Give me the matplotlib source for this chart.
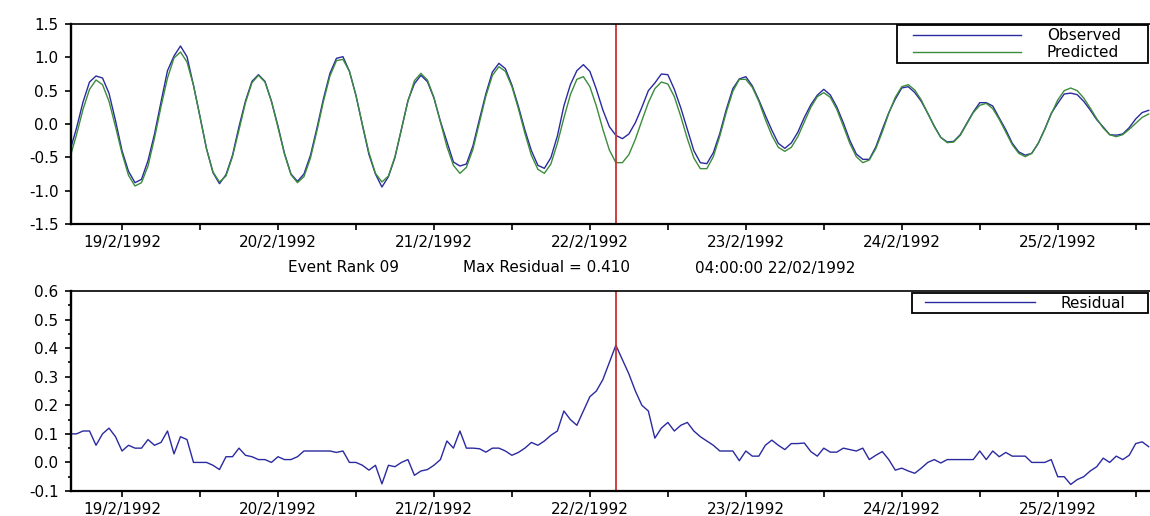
import matplotlib
matplotlib.use("Agg")
import matplotlib.pyplot as plt
import matplotlib.dates as mdates
from matplotlib.ticker import FixedLocator, MultipleLocator, FuncFormatter
from matplotlib.legend_handler import HandlerLine2D
import numpy as np
import pandas as pd

plt.rcParams["font.family"] = ["DejaVu Sans"]

# hourly series, first sample 18/02/1992 16:00
start_time = "1992-02-18 16:00"

predicted = [
    -0.50, -0.16, 0.22, 0.52, 0.66, 0.59, 0.34, -0.04, -0.44, -0.77, -0.93, -0.88,
    -0.63, -0.21, 0.26, 0.69, 0.99, 1.08, 0.93, 0.58, 0.11, -0.37, -0.72, -0.87,
    -0.78, -0.49, -0.09, 0.32, 0.62, 0.73, 0.63, 0.34, -0.05, -0.45, -0.76, -0.88,
    -0.79, -0.51, -0.10, 0.34, 0.72, 0.95, 0.97, 0.79, 0.43, -0.01, -0.43, -0.74,
    -0.87, -0.78, -0.49, -0.08, 0.34, 0.65, 0.76, 0.66, 0.40, 0.03, -0.34, -0.62,
    -0.74, -0.65, -0.38, 0.02, 0.42, 0.73, 0.86, 0.79, 0.56, 0.23, -0.14, -0.47,
    -0.68, -0.74, -0.60, -0.29, 0.09, 0.44, 0.67, 0.71, 0.56, 0.27, -0.08, -0.39,
    -0.58, -0.58, -0.46, -0.23, 0.05, 0.32, 0.53, 0.63, 0.60, 0.41, 0.11, -0.22,
    -0.51, -0.67, -0.67, -0.49, -0.18, 0.18, 0.49, 0.67, 0.67, 0.55, 0.34, 0.07,
    -0.17, -0.35, -0.41, -0.35, -0.19, 0.03, 0.25, 0.41, 0.47, 0.40, 0.22, -0.03,
    -0.29, -0.49, -0.58, -0.54, -0.37, -0.12, 0.16, 0.40, 0.56, 0.59, 0.51, 0.36,
    0.16, -0.04, -0.20, -0.28, -0.27, -0.17, 0.00, 0.17, 0.28, 0.31, 0.23, 0.07,
    -0.12, -0.31, -0.44, -0.49, -0.44, -0.29, -0.08, 0.15, 0.36, 0.50, 0.54, 0.50,
    0.39, 0.24, 0.08, -0.06, -0.16, -0.19, -0.16, -0.08, 0.01, 0.10, 0.15,
]

residual = [
    0.10, 0.10, 0.11, 0.11, 0.06, 0.10, 0.12, 0.09, 0.04, 0.06, 0.05, 0.05,
    0.08, 0.06, 0.07, 0.11, 0.03, 0.09, 0.08, 0.00, 0.00, 0.00, -0.01, -0.025,
    0.02, 0.02, 0.05, 0.025, 0.02, 0.01, 0.01, 0.00, 0.02, 0.01, 0.01, 0.02,
    0.04, 0.04, 0.04, 0.04, 0.04, 0.035, 0.04, 0.00, 0.00, -0.01, -0.027, -0.01,
    -0.075, -0.01, -0.015, 0.00, 0.01, -0.045, -0.03, -0.025, -0.01, 0.01, 0.075, 0.05,
    0.11, 0.05, 0.05, 0.048, 0.036, 0.05, 0.05, 0.04, 0.025, 0.035, 0.05, 0.07,
    0.06, 0.075, 0.095, 0.11, 0.18, 0.15, 0.13, 0.18, 0.23, 0.25, 0.29, 0.35,
    0.41, 0.36, 0.31, 0.25, 0.20, 0.18, 0.085, 0.12, 0.14, 0.11, 0.13, 0.14,
    0.11, 0.09, 0.075, 0.06, 0.04, 0.04, 0.04, 0.006, 0.04, 0.022, 0.022, 0.06,
    0.078, 0.06, 0.045, 0.066, 0.066, 0.068, 0.038, 0.022, 0.05, 0.036, 0.036, 0.05,
    0.045, 0.04, 0.05, 0.01, 0.025, 0.038, 0.01, -0.027, -0.02, -0.03, -0.038, -0.02,
    0.00, 0.01, -0.002, 0.01, 0.01, 0.01, 0.01, 0.01, 0.04, 0.01, 0.04, 0.02,
    0.035, 0.022, 0.022, 0.022, 0.00, 0.00, 0.00, 0.01, -0.05, -0.05, -0.077, -0.06,
    -0.05, -0.03, -0.015, 0.015, 0.00, 0.022, 0.01, 0.025, 0.066, 0.072, 0.055,
]

# observed = predicted + residual
observed = [p + r for p, r in zip(predicted, residual)]

event_time = pd.Timestamp("1992-02-22 04:00")
event_rank = "09"
max_residual = 0.410

times = pd.date_range(start_time, periods=len(predicted), freq="h")
x_start = pd.Timestamp("1992-02-18 16:09")
x_end = pd.Timestamp("1992-02-25 14:12")

BLUE = "#2a2aa0"
GREEN = "#3c8c3c"
RED = "#c83232"
FS = 11


def day_label(v, pos):
    d = mdates.num2date(v)
    return f"{d.day}/{d.month}/{d.year}"


def style_axes(ax):
    ax.set_xlim(x_start, x_end)
    ax.xaxis.set_major_locator(mdates.DayLocator())
    ax.xaxis.set_minor_locator(mdates.HourLocator(byhour=[12]))
    ax.xaxis.set_major_formatter(FuncFormatter(day_label))
    ax.yaxis.set_major_formatter(FuncFormatter(lambda v, p: f"{v:.1f}"))
    ax.spines["right"].set_visible(False)
    ax.spines["left"].set_linewidth(1.7)
    ax.spines["bottom"].set_linewidth(1.6)
    ax.spines["top"].set_linewidth(1.2)
    ax.tick_params(axis="both", which="major", direction="out", length=4, width=1.2,
                   labelsize=FS, colors="black")
    ax.tick_params(axis="x", which="major", pad=4)
    ax.tick_params(axis="y", which="major", pad=5)
    ax.tick_params(axis="both", which="minor", direction="out", length=4, width=1.2)


fig = plt.figure(figsize=(11.5, 5.16), dpi=100)
W, H = 1150, 516
ax1 = fig.add_axes([71 / W, 1 - 224 / H, 1079 / W, 200 / H])
ax2 = fig.add_axes([71 / W, 1 - 491 / H, 1079 / W, 200 / H])

# top panel
ax1.plot(times, observed, color=BLUE, lw=1.0, label="Observed")
ax1.plot(times, predicted, color=GREEN, lw=1.0, label="Predicted")
ax1.axvline(event_time, color=RED, lw=1.3)
ax1.set_ylim(-1.5, 1.5)
ax1.yaxis.set_major_locator(FixedLocator([-1.5, -1.0, -0.5, 0.0, 0.5, 1.0, 1.5]))
style_axes(ax1)

leg1 = ax1.legend(loc="upper left", bbox_to_anchor=(0.7655, 0.5, 0.2326, 0.495),
                  mode="expand", borderaxespad=0, fontsize=FS, fancybox=False,
                  framealpha=1, edgecolor="black", borderpad=0.2, labelspacing=0.15,
                  handlelength=7.9, handletextpad=1.7,
                  handler_map={plt.Line2D: HandlerLine2D(xpad=0.85)})
leg1.get_frame().set_linewidth(1.3)

# bottom panel
ax2.plot(times, residual, color=BLUE, lw=1.0, label="Residual")
ax2.axvline(event_time, color=RED, lw=1.3)
ax2.set_ylim(-0.1, 0.6)
ax2.yaxis.set_major_locator(MultipleLocator(0.1))
ax2.yaxis.set_minor_locator(MultipleLocator(0.05))
style_axes(ax2)
ax2.tick_params(axis="y", which="minor", length=2.5)

leg2 = ax2.legend(loc="upper left", bbox_to_anchor=(0.7794, 0.5, 0.2187, 0.49),
                  mode="expand", borderaxespad=0, fontsize=FS, fancybox=False,
                  framealpha=1, edgecolor="black", borderpad=0.17,
                  handlelength=7.9, handletextpad=1.64,
                  handler_map={plt.Line2D: HandlerLine2D(xpad=0.68)})
leg2.get_frame().set_linewidth(1.3)

# event info line between the panels
info_y = 1 - 268 / H
fig.text(288 / W, info_y, f"Event Rank {event_rank}", fontsize=FS, va="center")
fig.text(463 / W, info_y, f"Max Residual = {max_residual:.3f}", fontsize=FS, va="center")
fig.text(695 / W, info_y, event_time.strftime("%H:%M:%S %d/%m/%Y"), fontsize=FS, va="center")

fig.savefig("out.png", dpi=100)
